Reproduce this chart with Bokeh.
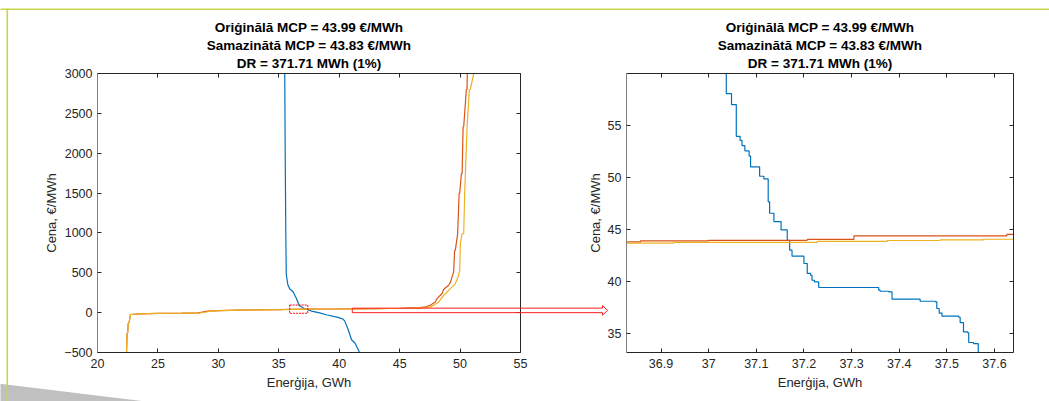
from bokeh.plotting import figure
from bokeh.models import (Range1d, LinearAxis, FixedTicker, NumeralTickFormatter,
                          Label, GridBox)
from bokeh.embed import file_html
from bokeh.resources import INLINE

# ---------------- data ----------------
title_lines = ["Oriġinālā MCP = 43.99 €/MWh",
               "Samazinātā MCP = 43.83 €/MWh",
               "DR = 371.71 MWh (1%)"]
x_label = "Enerģija, GWh"
y_label = "Cena, €/MWh"

# overview (left) - demand curve
dem_x = [35.49, 35.53, 35.58, 35.62, 35.75, 35.90, 36.18, 36.46, 36.69, 36.90, 37.04, 37.17,
         37.40, 37.70, 38.30, 39.00, 39.90, 40.30, 40.45, 40.60, 40.74, 41.02, 41.31, 41.59, 41.85]
dem_y = [3100, 2000, 1000, 480, 350, 300, 263, 177, 90, 70, 58, 44,
         38, 20, 0, -30, -59, -80, -103, -160, -211, -340, -384, -470, -560]

# overview - original supply curve
sup_orig_x = [22.37, 22.40, 22.45, 22.50, 22.54, 22.62, 22.73, 23.5, 25.0, 27.0, 28.3, 28.6, 29.1,
              30.0, 31.5, 33.0, 35.0, 36.0, 37.0, 37.3, 39.0, 41.0, 43.0, 45.06, 46.71, 47.13,
              47.54, 47.95, 48.04, 48.23, 48.37, 48.51, 48.64, 48.78, 49.06, 49.20, 49.34, 49.47,
              49.55, 49.61, 49.80, 49.92, 49.97, 50.11, 50.17, 50.25, 50.30, 50.52, 50.58, 50.60]
sup_orig_y = [-560, -500, -265, -250, -140, -120, -23, -15, -10, -7, -4, 5, 18,
              26, 31, 35, 39, 42.5, 44.0, 44.4, 46, 48, 51, 55, 64, 72,
              93, 134, 164, 197, 218, 240, 290, 310, 344, 380, 448, 511,
              783, 785, 992, 1494, 1496, 1745, 1747, 2330, 2332, 2799, 2801, 3100]

# overview - reduced supply curve
sup_red_x = [22.37, 22.40, 22.45, 22.50, 22.54, 22.62, 22.73, 23.5, 25.0, 27.0, 28.5, 28.9, 29.4,
             30.3, 31.8, 33.3, 35.3, 36.4, 37.3, 39.3, 41.3, 43.3, 45.4, 47.0, 47.54, 47.82,
             48.23, 48.65, 49.20, 49.61, 49.83, 49.97, 50.02, 50.17, 50.30, 50.38, 50.50, 50.58,
             50.77, 50.85, 51.13, 51.15]
sup_red_y = [-560, -500, -265, -250, -140, -120, -23, -15, -10, -7, -4, 5, 18,
             26, 31, 35, 39, 42, 43.9, 46, 48, 51, 55, 64, 72, 93,
             134, 218, 302, 365, 448, 532, 867, 990, 992, 1494, 1996, 2330,
             2799, 2801, 3000, 3100]

# zoom (right) - step data (value holds until next energy)
zdem_x = [37.037, 37.037, 37.048, 37.058, 37.066, 37.070, 37.076, 37.085, 37.088, 37.107,
          37.116, 37.125, 37.128, 37.137, 37.152, 37.165, 37.170, 37.175, 37.200, 37.207,
          37.214, 37.217, 37.222, 37.231, 37.357, 37.360, 37.378, 37.385, 37.444, 37.476,
          37.479, 37.484, 37.490, 37.525, 37.528, 37.535, 37.544, 37.546, 37.556, 37.566,
          37.566]
zdem_y = [62.0, 58.1, 57.05, 54.0, 53.6, 53.1, 52.6, 52.1, 51.06, 50.16,
          49.9, 47.7, 46.6, 45.8, 45.0, 44.0, 43.05, 42.47, 41.77, 40.81,
          40.64, 40.16, 40.0, 39.46, 39.2, 39.1, 39.04, 38.34, 38.14, 38.08,
          37.44, 37.0, 36.7, 36.6, 36.09, 35.19, 35.1, 34.17, 34.07, 33.97,
          32.5]
zsup_orig_x = [36.80, 36.857, 37.0, 37.207, 37.305, 37.626, 37.70]
zsup_orig_y = [43.85, 43.95, 44.0, 44.08, 44.43, 44.56, 44.56]
zsup_red_x = [36.80, 36.927, 37.228, 37.375, 37.486, 37.577, 37.70]
zsup_red_y = [43.72, 43.80, 43.90, 43.98, 44.05, 44.10, 44.10]

zoom_box = [35.9, 37.4, -8, 95]      # left, right, bottom, top (overview units)
arrow_start = [41.08, 0.0]           # energy / price where the arrow starts (overview units)

left_xticks = [20, 25, 30, 35, 40, 45, 50, 55]
left_yticks = [-500, 0, 500, 1000, 1500, 2000, 2500, 3000]
right_xticks = [36.9, 37.0, 37.1, 37.2, 37.3, 37.4, 37.5, 37.6]
right_yticks = [35, 40, 45, 50, 55]

# ---------------- style ----------------
FONT = "Liberation Sans"
TXT = "#262626"
C_DEM = "#0072BD"
C_ORIG = "#D95319"
C_RED = "#EDB120"
GREEN = "#c5d64a"
GRAY = "#c0c0c0"
ARROW = "#ff2020"

# figure geometry (global window pixels)
GL = dict(off=0, W=560, H=401, fl=97, fr=520, ft=73, fb=352,
          x0=20.0, x1=55.0, y0=-500.0, y1=3000.0)
GR = dict(off=560, W=489, H=401, fl=626, fr=1013, ft=73, fb=352,
          x0=36.8275, x1=37.64, y0=33.21, y1=60.04)


def to_px(g, x, y):
    X = g["fl"] + (x - g["x0"]) / (g["x1"] - g["x0"]) * (g["fr"] - g["fl"])
    Y = g["ft"] + (g["y1"] - y) / (g["y1"] - g["y0"]) * (g["fb"] - g["ft"])
    return X, Y


def make_fig(g, xticks, yticks, xfmt):
    p = figure(width=g["W"], height=g["H"],
               x_range=Range1d(g["x0"], g["x1"]), y_range=Range1d(g["y0"], g["y1"]),
               output_backend="svg", toolbar_location=None, title=None,
               x_axis_type=None, y_axis_type=None,
               min_border_left=g["fl"] - g["off"],
               min_border_right=g["off"] + g["W"] - g["fr"],
               min_border_top=g["ft"], min_border_bottom=g["H"] - g["fb"])
    p.frame_align = False
    p.outline_line_color = None
    p.background_fill_color = "white"
    p.border_fill_color = "white"
    for loc, ticks, show in [("below", xticks, True), ("above", xticks, False),
                             ("left", yticks, True), ("right", yticks, False)]:
        ax = LinearAxis(ticker=FixedTicker(ticks=ticks))
        if loc in ("below", "above") and xfmt:
            ax.formatter = NumeralTickFormatter(format=xfmt)
        ax.major_tick_in = 4
        ax.major_tick_out = 0
        ax.minor_tick_line_color = None
        ax.major_tick_line_color = TXT
        ax.axis_line_color = "#808080" if loc == "left" else TXT
        ax.axis_line_width = 1
        ax.major_label_text_font = FONT
        ax.major_label_text_font_size = "12.5px" if show else "0px"
        ax.major_label_text_color = TXT if show else None
        ax.axis_label_text_font = FONT
        ax.axis_label_text_font_size = "13px"
        ax.axis_label_text_font_style = "normal"
        ax.axis_label_text_color = TXT
        if loc == "below":
            ax.axis_label = x_label
            ax.major_label_standoff = 6
            ax.axis_label_standoff = 4
        if loc == "left":
            ax.axis_label = y_label
            ax.major_label_standoff = 5
            ax.axis_label_standoff = 2
        p.add_layout(ax, loc)
    return p


# ---------------- left overview ----------------
pl = make_fig(GL, left_xticks, left_yticks, None)
pl.line(dem_x, dem_y, line_color=C_DEM, line_width=1.2)
pl.line(sup_orig_x, sup_orig_y, line_color=C_ORIG, line_width=1.2)
pl.line(sup_red_x, sup_red_y, line_color=C_RED, line_width=1.2)
pl.quad(left=[zoom_box[0]], right=[zoom_box[1]], bottom=[zoom_box[2]], top=[zoom_box[3]],
        fill_color=None, line_color="#ff0000", line_width=1, line_dash="2 1")

# ---------------- right zoom ----------------
pr = make_fig(GR, right_xticks, right_yticks, "0.[0]")
pr.step(zdem_x, zdem_y, mode="after", line_color=C_DEM, line_width=1.2)
pr.step(zsup_orig_x, zsup_orig_y, mode="after", line_color=C_ORIG, line_width=1.2)
pr.step(zsup_red_x, zsup_red_y, mode="after", line_color=C_RED, line_width=1.2)

# ---------------- overlay (page decorations, titles, arrow) ----------------
bg = figure(width=1049, height=401, x_range=Range1d(0, 1049), y_range=Range1d(401, 0),
            output_backend="svg", toolbar_location=None, title=None,
            x_axis_type=None, y_axis_type=None,
            min_border_left=0, min_border_right=0, min_border_top=0, min_border_bottom=0)
bg.frame_align = False
bg.outline_line_color = None
bg.background_fill_color = None
bg.background_fill_alpha = 0
bg.border_fill_color = None
bg.border_fill_alpha = 0

# grey corner shape, green slide frame
bg.patch([-2, 152, -2], [383.0, 401.8, 401.8], fill_color=GRAY, line_color=None)
bg.patch([-2, 1051, 1051, -2], [8.0, 8.0, 9.6, 9.6], fill_color=GREEN, line_color=None)
bg.patch([6.0, 7.6, 7.6, 6.0], [8.0, 8.0, 402, 402], fill_color=GREEN, line_color=None)

# titles
for g in (GL, GR):
    xc = (g["fl"] + g["fr"]) / 2
    for i, t in enumerate(title_lines):
        bg.add_layout(Label(x=xc, y=27 + 18 * i, text=t, text_align="center",
                            text_baseline="middle", text_font=FONT, text_font_size="13.5px",
                            text_font_style="bold", text_color="#000000"))

# arrow from the zoom box region of the overview towards the zoom plot
ax0, ay0 = to_px(GL, arrow_start[0], arrow_start[1])
top_y, bot_y = ay0 - 4.5, ay0
tip_x = GR["fl"] - 19
base_x = tip_x - 5
bg.patch([ax0, base_x, base_x, tip_x, base_x, base_x, ax0],
         [top_y, top_y, top_y - 2.5, (top_y + bot_y) / 2, bot_y + 2.5, bot_y, bot_y],
         fill_alpha=0, line_color=ARROW, line_width=1)

layout = GridBox(children=[(pl, 0, 0), (pr, 0, 1), (bg, 0, 0, 1, 2)])
open("out.html", "w").write(file_html(layout, INLINE))
